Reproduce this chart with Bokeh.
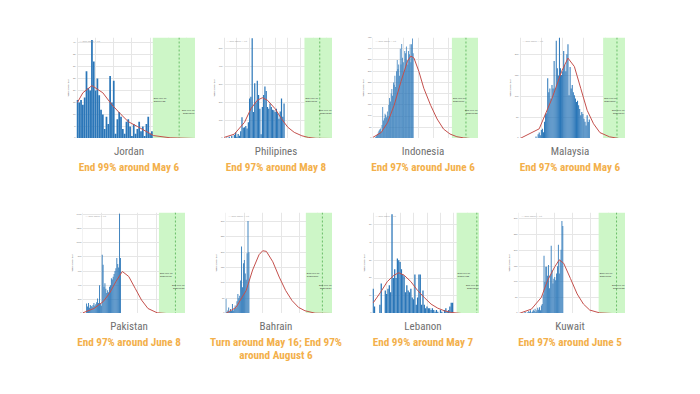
from bokeh.plotting import figure
from bokeh.models import Range1d, BoxAnnotation, Span, Label, Spacer, BasicTicker
from bokeh.layouts import row, column
from bokeh.embed import file_html
from bokeh.resources import INLINE

countries = ["Jordan", "Philipines", "Indonesia", "Malaysia",
             "Pakistan", "Bahrain", "Lebanon", "Kuwait"]
captions = [["End 99% around May 6"], ["End 97% around May 8"],
            ["End 97% around June 6"], ["End 97% around May 6"],
            ["End 97% around June 8"], ["Turn around May 16; End 97%", "around August 6"],
            ["End 99% around May 7"], ["End 97% around June 5"]]

# daily new cases (bars), first bar day index, fitted curve samples
jordan_cases = [16, 15, 16, 14, 17, 28, 21, 20, 41, 32, 20, 25, 18, 12, 10, 4, 9, 6, 26, 15, 24,
                2, 8, 11, 9, 4, 2, 7, 8, 5, 1, 6, 2, 4, 7, 3, 5, 1, 6, 9, 2, 3]
jordan_start = 0
jordan_fit_day = [0, 3, 8, 14, 19, 24, 28, 33, 42, 51, 65]
jordan_fit_val = [15, 19, 22, 19, 14, 10, 7, 5, 1.2, 0.3, 0]

philippines_cases = [3, 0, 5, 2, 10, 0, 15, 3, 20, 34, 10, 25, 15, 40, 118, 60, 62, 70, 55, 90,
                     222, 231, 556, 147, 306, 200, 320, 241, 165, 24, 175, 241, 288, 263, 175,
                     165, 194, 175, 160, 156, 147, 165, 140, 109, 150, 222, 120, 194]
philippines_start = 0
philippines_fit_day = [0, 8, 16, 21, 26, 30, 34, 40, 45, 50, 55, 61, 66, 72, 85]
philippines_fit_val = [6, 24, 90, 165, 212, 226, 212, 165, 109, 62, 34, 15, 6, 1, 0]

indonesia_cases = [0, 2, 0, 5, 8, 15, 20, 27, 35, 40, 45, 30, 60, 140, 80, 90, 110, 105, 95, 120,
                   100, 150, 180, 165, 200, 220, 190, 250, 240, 280, 230, 300, 350, 310, 330, 280,
                   400, 330, 421, 360, 340, 300, 390, 380, 410, 350, 330, 390, 375, 420, 340, 420,
                   445, 380]
indonesia_start = 0
indonesia_fit_day = [0, 11, 19.5, 28, 37, 45.5, 50, 54, 60.5, 67, 76, 84.5, 93, 101.5, 110.5, 119, 128, 138.5]
indonesia_fit_val = [5, 27, 72, 148, 254, 344, 367, 359, 299, 224, 148, 87, 42, 20, 8, 3, 0, 0]

malaysia_cases = [5, 0, 10, 14, 8, 20, 23, 15, 40, 59, 60, 143, 110, 119, 95, 127, 119, 184, 119,
                  232, 167, 150, 240, 167, 151, 160, 208, 175, 160, 200, 224, 103, 170, 119, 127,
                  110, 103, 95, 87, 90, 79, 70, 55, 63, 58, 47, 40, 31, 55, 39, 45]
malaysia_start = 15
malaysia_fit_day = [0, 18, 30, 39, 45, 51, 57, 63, 69, 75, 84, 93, 99]
malaysia_fit_val = [0, 23, 95, 159, 191, 171, 119, 67, 35, 14, 4, 0, 0]

pakistan_cases = [143, 100, 150, 80, 120, 105, 95, 120, 150, 110, 130, 160, 214, 150, 400, 140,
                  110, 833, 690, 380, 430, 350, 290, 330, 300, 380, 400, 500, 480, 520, 560, 600,
                  640, 786, 700, 650, 1414, 786]
pakistan_start = 4
pakistan_fit_day = [0, 12, 22, 29, 36, 43, 50, 57, 64, 71, 81, 91, 112]
pakistan_fit_val = [10, 71, 167, 286, 452, 595, 524, 357, 190, 71, 10, 0, 0]

bahrain_cases = [48, 5, 10, 20, 5, 15, 8, 31, 10, 15, 26, 20, 40, 64, 50, 58, 108, 219, 86, 164,
                 175, 131, 110, 197, 302, 200]
bahrain_start = 0
bahrain_fit_day = [0, 11, 22, 29, 36, 40, 44, 51, 58, 65, 72, 79, 86, 97, 116]
bahrain_fit_val = [0, 20, 75, 142, 192, 205, 203, 169, 119, 75, 42, 20, 9, 1, 0]

lebanon_cases = [14, 4, 0, 0, 0, 5, 17, 0, 0, 13, 11, 14, 16, 12, 56, 20, 25, 20, 31, 30, 29, 25,
                 22, 21, 12, 16, 13, 12, 14, 9, 8, 22, 5, 9, 22, 22, 5, 13, 5, 3, 4, 3, 3, 2, 3, 2,
                 1, 2, 1, 0, 2, 1, 0, 2, 3, 1, 2, 4, 6, 6]
lebanon_start = 0
lebanon_fit_day = [0, 5.5, 10.5, 15.5, 19, 23, 28, 33, 38, 43, 48, 53, 58, 65.5, 79]
lebanon_fit_val = [6, 12, 18, 21.6, 23, 21.6, 18, 13, 9, 5.3, 3, 1.5, 0.6, 0, 0]

kuwait_cases = [2, 0, 3, 5, 1, 2, 4, 8, 5, 10, 3, 6, 12, 8, 15, 5, 10, 18, 12, 20, 10, 25, 30, 60,
                183, 100, 148, 148, 120, 154, 80, 121, 215, 137, 95, 110, 116, 105, 127, 150, 218,
                127, 170, 202, 293, 277]
kuwait_start = 4
kuwait_fit_day = [0, 14, 25, 32, 40, 45, 50, 57.5, 65, 72, 79, 90, 104, 119]
kuwait_fit_val = [0, 14, 51, 105, 148, 170, 159, 111, 62, 30, 11, 2, 0, 0]

# per-chart scale / end markers (days from chart start)
x_max = [65, 85, 139, 99, 112, 116, 79, 119]
y_max = [42, 560, 450, 240, 1430, 330, 57, 320]
end97_day = [41.5, 63, 104, 78, 83, 87, 62, 89]
end99_day = [56, 75, 122.5, 91, 101, 105, 77, 109]
end97_date = ["2020/04/22", "2020/05/08", "2020/06/06", "2020/05/06",
              "2020/06/08", "2020/08/06", "2020/04/22", "2020/06/05"]
end99_date = ["2020/05/06", "2020/05/20", "2020/06/25", "2020/05/19",
              "2020/06/26", "2020/08/24", "2020/05/07", "2020/06/25"]

CASES = [jordan_cases, philippines_cases, indonesia_cases, malaysia_cases,
         pakistan_cases, bahrain_cases, lebanon_cases, kuwait_cases]
STARTS = [jordan_start, philippines_start, indonesia_start, malaysia_start,
          pakistan_start, bahrain_start, lebanon_start, kuwait_start]
FIT_D = [jordan_fit_day, philippines_fit_day, indonesia_fit_day, malaysia_fit_day,
         pakistan_fit_day, bahrain_fit_day, lebanon_fit_day, kuwait_fit_day]
FIT_V = [jordan_fit_val, philippines_fit_val, indonesia_fit_val, malaysia_fit_val,
         pakistan_fit_val, bahrain_fit_val, lebanon_fit_val, kuwait_fit_val]

# chart image widths and left offsets inside their cells (px)
FIG_W = [131, 122, 119, 119, 118, 120, 119, 120]
FIG_PAD = [9, 8, 10, 10, 12, 10, 11, 9]

NARROW = "Liberation Sans Narrow, Roboto Condensed, Roboto, sans-serif"
SMALL = "2.3px"


def make_chart(i):
    cases = CASES[i]
    days = [STARTS[i] + k for k in range(len(cases))]
    p = figure(width=FIG_W[i], height=101, output_backend="svg", toolbar_location=None,
               x_range=Range1d(-0.5, x_max[i]), y_range=Range1d(0, y_max[i]),
               x_axis_location=None, min_border=0, min_border_left=0,
               min_border_right=0, min_border_top=0, min_border_bottom=0)
    p.outline_line_color = None
    p.background_fill_color = "white"
    p.yaxis.axis_label = "New Cases / Day"
    p.yaxis.axis_label_text_font_size = SMALL
    p.yaxis.axis_label_text_font_style = "normal"
    p.yaxis.axis_label_text_color = "#555555"
    p.yaxis.axis_label_standoff = 0
    p.yaxis.major_label_text_font_size = SMALL
    p.yaxis.major_label_text_color = "#777777"
    p.yaxis.major_label_standoff = 1
    p.yaxis.major_tick_out = 0
    p.yaxis.major_tick_in = 0
    p.yaxis.minor_tick_out = 0
    p.yaxis.minor_tick_in = 0
    p.yaxis.major_tick_line_color = None
    p.yaxis.minor_tick_line_color = None
    p.yaxis.axis_line_color = None
    p.yaxis.ticker.desired_num_ticks = 7
    p.xgrid.ticker = BasicTicker(desired_num_ticks=7)
    p.xgrid.grid_line_color = "#e6e6e6"
    p.ygrid.grid_line_color = "#e6e6e6"
    p.add_layout(BoxAnnotation(left=end97_day[i], right=x_max[i], fill_color="#cdf6c7",
                               fill_alpha=1, line_color=None, level="underlay"))
    p.vbar(x=days, top=cases, width=0.95, fill_color="#2a76b8", line_color=None)
    p.line(FIT_D[i], FIT_V[i], line_color="#c4504c", line_width=1)
    p.add_layout(Span(location=end99_day[i], dimension="height", line_color="#4fae4f",
                      line_dash="2 2", line_width=0.8))
    p.add_layout(Label(x=end97_day[i], y=36, y_units="screen", x_offset=1,
                       text="End 97% on\n" + end97_date[i], text_font_size=SMALL,
                       text_color="#333333"))
    p.add_layout(Label(x=x_max[i], y=24, y_units="screen", x_offset=-1,
                       text="End 99% on\n" + end99_date[i], text_font_size=SMALL,
                       text_align="right", text_color="#333333"))
    p.add_layout(Label(x=3, y=97, x_units="screen", y_units="screen",
                       text="\u2014 New cases  \u2014 Fit", text_font_size=SMALL,
                       text_color="#999999", text_baseline="middle"))
    return p


def make_caption(i, h):
    p = figure(width=147, height=h, output_backend="svg", toolbar_location=None,
               x_range=Range1d(0, 1), y_range=Range1d(0, 1),
               x_axis_location=None, y_axis_location=None, min_border=0)
    p.grid.visible = False
    p.outline_line_color = None
    p.add_layout(Label(x=73.5, y=h - 13, x_units="screen", y_units="screen",
                       text=countries[i], text_align="center", text_baseline="middle",
                       text_font=NARROW, text_font_size="11px", text_color="#707070"))
    for j, line in enumerate(captions[i]):
        p.add_layout(Label(x=73.5, y=h - 29 - 13 * j, x_units="screen", y_units="screen",
                           text=line, text_align="center", text_baseline="middle",
                           text_font=NARROW, text_font_size="11.2px", text_font_style="bold",
                           text_color="#f3b04b"))
    return p


def cell(i, h):
    return column(row(Spacer(width=FIG_PAD[i], height=101), make_chart(i)), make_caption(i, h))


row1 = row(Spacer(width=55, height=10), cell(0, 74), cell(1, 74), cell(2, 74), cell(3, 74))
row2 = row(Spacer(width=55, height=10), cell(4, 66), cell(5, 66), cell(6, 66), cell(7, 66))
layout = column(Spacer(width=10, height=37), row1, row2)

open("out.html", "w").write(file_html(layout, INLINE))
